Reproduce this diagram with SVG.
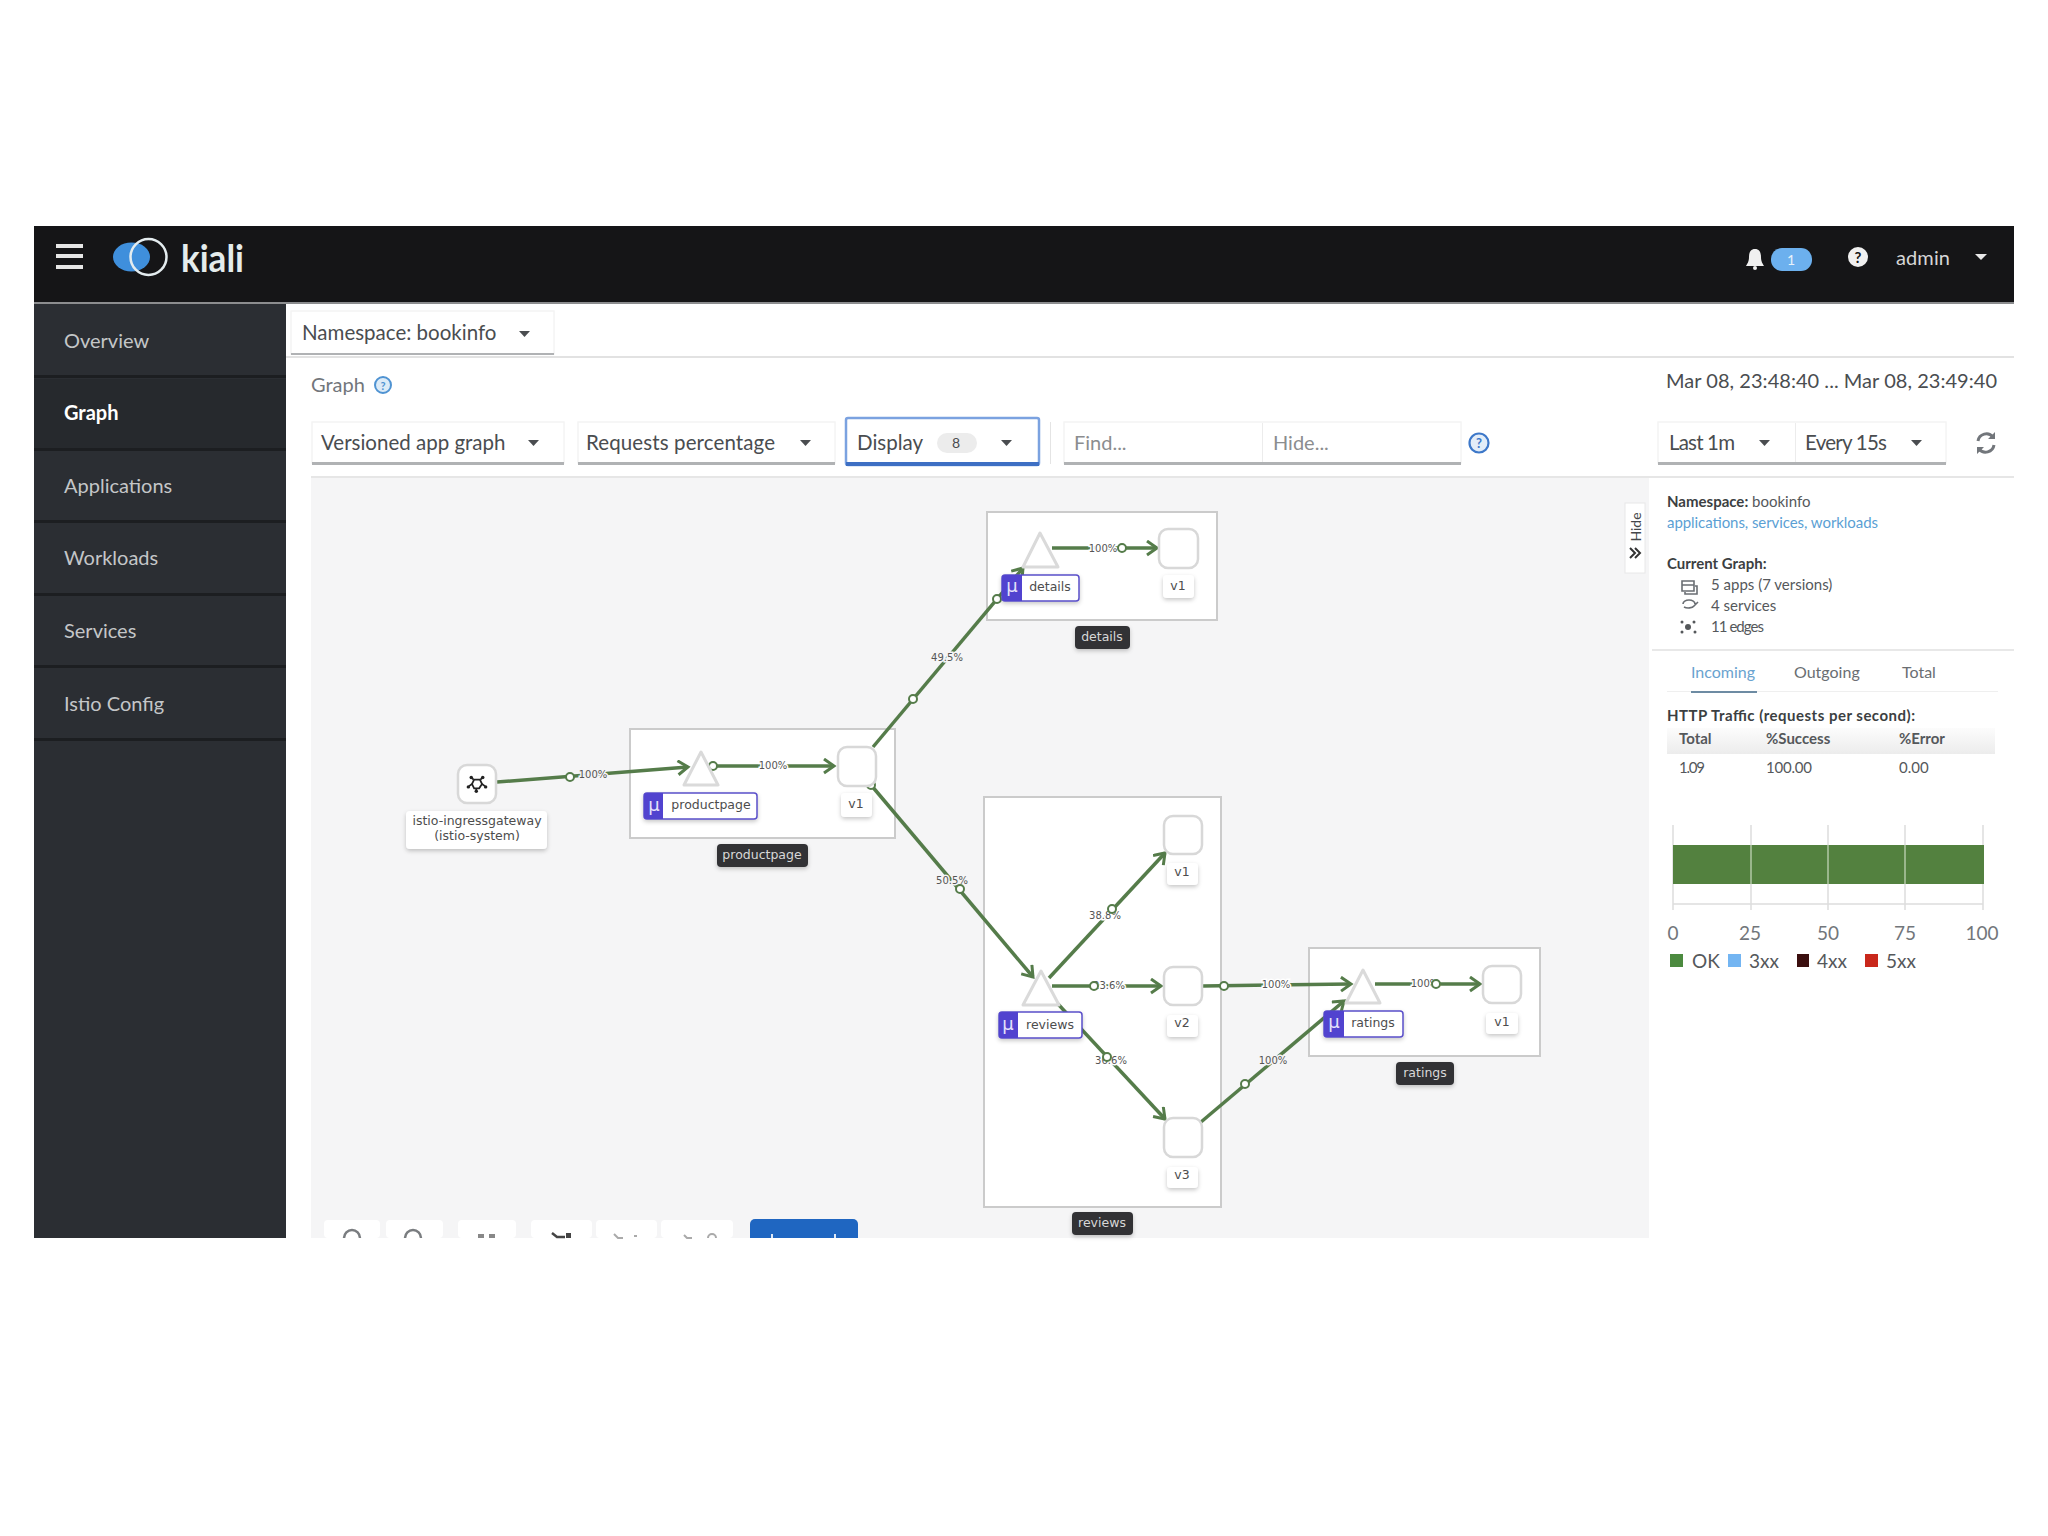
<svg xmlns="http://www.w3.org/2000/svg" width="2048" height="1536" viewBox="0 0 2048 1536">
<style>
text{font-family:"Lato","Liberation Sans",sans-serif;fill:#3c3f42}
.nav{font-size:20px;fill:#c4c6c8;dominant-baseline:central}
.navb{font-weight:700;fill:#fff}
.ui{font-size:20.500px;dominant-baseline:central;fill:#4a4d50}
.ph{font-size:20px;dominant-baseline:central;fill:#8b8d8f}
.sm{font-size:15px;dominant-baseline:central;fill:#55585b}
.b{font-weight:700;fill:#3c3f42}
.th{font-size:15px;font-weight:700;dominant-baseline:central;fill:#55585b}
.tick{font-size:19px;text-anchor:middle;dominant-baseline:central;fill:#72767b}
.lg{font-size:19px;dominant-baseline:central;fill:#55585b}
.g{font-family:"DejaVu Sans",sans-serif;font-size:12.500px;text-anchor:middle;dominant-baseline:central;fill:#4d4d4d}
.dk{font-family:"DejaVu Sans",sans-serif;font-size:12.500px;text-anchor:middle;dominant-baseline:central;fill:#d8d8d8}
.pct{font-family:"DejaVu Sans",sans-serif;font-size:10px;text-anchor:middle;dominant-baseline:central;fill:#555;paint-order:stroke;stroke-width:3px}
.on{stroke:#fff}.off{stroke:#f5f5f6}
.mu{font-family:"DejaVu Sans",sans-serif;font-size:18px;text-anchor:middle;dominant-baseline:central;fill:#e4e0fa}
.box{fill:#fff;stroke:#cbcbcb;stroke-width:2}
.sq{fill:#fff;stroke:#d8d8d8;stroke-width:2.500}
.tri{fill:#fff;stroke:#dadada;stroke-width:3;stroke-linejoin:round}
.lab{fill:#fff;filter:url(#sh)}
.dark{fill:#303234;filter:url(#sh)}
.bdg{fill:#fff;stroke:#5a4fc9;stroke-width:1.500;filter:url(#sh)}
.pur{fill:#5143cf}
.ah{stroke:#557c4a;stroke-width:3.500;fill:none;marker-end:url(#v)}
.d{fill:#fff;stroke:#557c4a;stroke-width:2}
.caret{fill:#4a4d50}
.ul{fill:#b0b2b4}
.fr{fill:#fff;stroke:#f4f4f4;stroke-width:1.500}
.sep{fill:#1c1e21}
.gl{stroke:#dcdcdc;stroke-width:1.500}
.gi{stroke:#8fb07f;stroke-width:1.500}
.ic{fill:none;stroke:#6a6e73;stroke-width:1.600}
.tb{fill:#fff}
</style>
<defs>
<filter id="sh" x="-20%" y="-30%" width="140%" height="170%"><feDropShadow dx="0" dy="2" stdDeviation="2.200" flood-color="#000" flood-opacity=".22"/></filter>
<marker id="v" markerUnits="userSpaceOnUse" markerWidth="18" markerHeight="18" refX="13" refY="8" orient="auto"><path d="M3 1 L13 8 L3 15" fill="none" stroke="#557c4a" stroke-width="3"/></marker>
<linearGradient id="hd" x1="0" y1="0" x2="0" y2="1"><stop offset="0" stop-color="#fcfcfc"/><stop offset="1" stop-color="#ececec"/></linearGradient>
</defs>
<rect width="2048" height="1536" fill="#fff"/>

<g id="sidebar">
<rect x="34" y="303" width="252" height="935" fill="#2b2e33"/>
<rect x="34" y="379" width="252" height="70" fill="#26292d"/>
<rect class="sep" x="34" y="375" width="252" height="3"/><rect class="sep" x="34" y="448" width="252" height="3"/><rect class="sep" x="34" y="520" width="252" height="3"/><rect class="sep" x="34" y="593" width="252" height="3"/><rect class="sep" x="34" y="665" width="252" height="3"/><rect class="sep" x="34" y="738" width="252" height="3"/>
<text class="nav" x="64" y="340">Overview</text>
<text class="nav navb" x="64" y="412">Graph</text>
<text class="nav" x="64" y="485">Applications</text>
<text class="nav" x="64" y="557">Workloads</text>
<text class="nav" x="64" y="630">Services</text>
<text class="nav" x="64" y="703">Istio Config</text>
</g>

<g id="topbar">
<rect x="34" y="226" width="1980" height="77" fill="#151517"/>
<rect x="34" y="302" width="1980" height="2" fill="#8c8d8f"/>
<rect x="56" y="244" width="27" height="4" fill="#e6e6e6"/><rect x="56" y="254" width="27" height="4" fill="#e6e6e6"/><rect x="56" y="265" width="27" height="4" fill="#e6e6e6"/>
<ellipse cx="131.500" cy="257" rx="18.500" ry="14.500" fill="#3f8fdc"/>
<circle cx="148.500" cy="257" r="18" fill="none" stroke="#e4ecef" stroke-width="2.500"/>
<text x="181" y="272" textLength="63" lengthAdjust="spacingAndGlyphs" style="font-size:38px;font-weight:700;fill:#e4ecec">kiali</text>
<path d="M1755 249c-4 0-6 3-6 8 0 5-2 7-3 9h18c-1-2-3-4-3-9 0-5-2-8-6-8z" fill="#f0f0f0"/><circle cx="1755" cy="268" r="2" fill="#f0f0f0"/>
<rect x="1771" y="248" width="41" height="23" rx="11" fill="#6cb0ee"/>
<text x="1791" y="259" style="font-size:14px;text-anchor:middle;dominant-baseline:central;fill:#e8f2fb">1</text>
<circle cx="1858" cy="257" r="10" fill="#f0f0f0"/>
<text x="1858" y="257" style="font-size:15px;font-weight:700;text-anchor:middle;dominant-baseline:central;fill:#151517">?</text>
<text x="1896" y="257" textLength="54" style="font-size:20px;dominant-baseline:central;fill:#d6d6d6">admin</text>
<path d="M1975 254h12l-6 6z" fill="#e8e8e8"/>
</g>

<g id="toolbar">
<rect class="fr" x="291" y="311" width="263" height="43"/>
<rect x="286" y="356" width="1728" height="2" fill="#e2e2e2"/>
<rect class="ul" x="291" y="353" width="263" height="2"/>
<text class="ui" x="302" y="332">Namespace: bookinfo</text>
<path class="caret" d="M519 331h11l-5.500 6z"/>
<text x="311" y="384" style="font-size:20px;dominant-baseline:central;fill:#72767b">Graph</text>
<circle cx="383" cy="385" r="8" fill="#dcebf7" stroke="#4f93d2" stroke-width="2"/>
<text x="383" y="385" style="font-size:11px;font-weight:700;text-anchor:middle;dominant-baseline:central;fill:#4f93d2">?</text>
<text class="ui" x="1666" y="380" textLength="331" style="font-size:20px">Mar 08, 23:48:40 ... Mar 08, 23:49:40</text>

<rect class="fr" x="312" y="422" width="252" height="41"/>
<rect class="ul" x="312" y="462" width="252" height="3"/>
<text class="ui" x="321" y="442">Versioned app graph</text>
<path class="caret" d="M528 440h11l-5.500 6z"/>
<rect class="fr" x="578" y="422" width="257" height="41"/>
<rect class="ul" x="578" y="462" width="257" height="3"/>
<text class="ui" x="586" y="442" textLength="189">Requests percentage</text>
<path class="caret" d="M800 440h11l-5.500 6z"/>
<rect x="846" y="418" width="193" height="47" rx="2" fill="#fff" stroke="#7ba2e0" stroke-width="2.500"/>
<rect x="846" y="462" width="193" height="4" fill="#3d6fc4"/>
<text class="ui" x="857" y="442">Display</text>
<rect x="937" y="433" width="40" height="20" rx="10" fill="#ececec"/>
<text x="956" y="442" style="font-size:14px;text-anchor:middle;dominant-baseline:central;fill:#4a4d50">8</text>
<path class="caret" d="M1001 440h11l-5.500 6z"/>
<rect x="1050" y="422" width="1" height="42" fill="#e4e4e4"/>
<rect class="fr" x="1064" y="422" width="397" height="41"/>
<rect class="ul" x="1064" y="462" width="397" height="3"/>
<rect x="1262" y="423" width="1" height="39" fill="#ececec"/>
<text class="ph" x="1074" y="442">Find...</text>
<text class="ph" x="1273" y="442">Hide...</text>
<circle cx="1479" cy="443" r="9.500" fill="#e3edf8" stroke="#3d78c9" stroke-width="2.200"/>
<text x="1479" y="443" style="font-size:13px;font-weight:700;text-anchor:middle;dominant-baseline:central;fill:#3d78c9">?</text>
<rect class="fr" x="1658" y="422" width="288" height="41"/>
<rect class="ul" x="1658" y="462" width="288" height="3"/>
<text class="ui" x="1669" y="442" textLength="66">Last 1m</text>
<path class="caret" d="M1759 440h11l-5.500 6z"/>
<rect x="1795" y="423" width="1" height="39" fill="#ececec"/>
<text class="ui" x="1805" y="442" textLength="82">Every 15s</text>
<path class="caret" d="M1911 440h11l-5.500 6z"/>
<path d="M1978 441a8.500 8.500 0 0 1 15-4M1994 445a8.500 8.500 0 0 1-15 4" fill="none" stroke="#72767b" stroke-width="3"/>
<path d="M1995 432v7h-7zM1977 454v-7h7z" fill="#72767b"/>
</g>

<g id="canvas">
<rect x="311" y="478" width="1338" height="760" fill="#f5f5f6"/>
<rect x="311" y="476" width="1703" height="2" fill="#e6e6e6"/>
<g id="graph-tools">
<rect class="tb" x="324" y="1220" width="56" height="18" rx="4"/><rect class="tb" x="386" y="1220" width="57" height="18" rx="4"/><rect class="tb" x="458" y="1220" width="58" height="18" rx="4"/><rect class="tb" x="531" y="1220" width="61" height="18" rx="4"/><rect class="tb" x="596" y="1220" width="61" height="18" rx="4"/><rect class="tb" x="661" y="1220" width="72" height="18" rx="4"/>
<path d="M344 1238a8 8 0 0 1 16 0M405 1238a8 8 0 0 1 16 0" fill="none" stroke="#7a7d80" stroke-width="2.500"/>
<path d="M478 1234h6v4h-6zM489 1234h6v4h-6z" fill="#888"/>
<path d="M552 1233l5 4h8" fill="none" stroke="#444" stroke-width="2.500"/><rect x="566" y="1233" width="5" height="5" fill="#444"/>
<path d="M614 1234l4 4h5M634 1236h3M684 1235l3 3h5M708 1238a4 4 0 0 1 8 0" fill="none" stroke="#aaa" stroke-width="2"/>
<path d="M750 1238v-14a5 5 0 0 1 5-5h98a5 5 0 0 1 5 5v14z" fill="#1f66c1"/>
<rect x="771" y="1234" width="2" height="4" fill="#dfe9f6"/><rect x="834" y="1234" width="2" height="4" fill="#dfe9f6"/>
</g>
</g>

<g id="app-productpage"><rect class="box" x="630" y="729" width="265" height="109"/><rect class="dark" x="717" y="844" width="91" height="23" rx="4"/><text class="dk" x="762" y="854">productpage</text></g>
<g id="app-details"><rect class="box" x="987" y="512" width="230" height="108"/><rect class="dark" x="1075" y="626" width="55" height="23" rx="4"/><text class="dk" x="1102" y="636">details</text></g>
<g id="app-reviews"><rect class="box" x="984" y="797" width="237" height="410"/><rect class="dark" x="1072" y="1212" width="61" height="23" rx="4"/><text class="dk" x="1102" y="1222">reviews</text></g>
<g id="app-ratings"><rect class="box" x="1309" y="948" width="231" height="108"/><rect class="dark" x="1396" y="1062" width="58" height="23" rx="4"/><text class="dk" x="1425" y="1072">ratings</text></g>

<g id="connectors">
<line class="ah" x1="497" y1="782" x2="688" y2="767"/>
<line class="ah" x1="717" y1="766" x2="834" y2="766"/>
<line class="ah" x1="873" y1="747" x2="1023" y2="568"/>
<line class="ah" x1="1052" y1="548" x2="1157" y2="548"/>
<line class="ah" x1="871" y1="785" x2="1033" y2="977"/>
<line class="ah" x1="1049" y1="978" x2="1165" y2="853"/>
<line class="ah" x1="1052" y1="986" x2="1161" y2="986"/>
<line class="ah" x1="1058" y1="1004" x2="1165" y2="1119"/>
<line class="ah" x1="1203" y1="986" x2="1351" y2="984"/>
<line class="ah" x1="1201" y1="1122" x2="1344" y2="1001"/>
<line class="ah" x1="1375" y1="984" x2="1480" y2="984"/>
<text class="pct off" x="593" y="774">100%</text>
<text class="pct on" x="773" y="765">100%</text>
<text class="pct off" x="947" y="657">49.5%</text>
<text class="pct on" x="1103" y="548">100%</text>
<text class="pct off" x="952" y="880">50.5%</text>
<text class="pct on" x="1105" y="915">38.8%</text>
<text class="pct on" x="1109" y="985">23.6%</text>
<text class="pct on" x="1111" y="1060">36.6%</text>
<text class="pct on" x="1276" y="984">100%</text>
<text class="pct off" x="1273" y="1060">100%</text>
<text class="pct on" x="1425" y="983">100%</text>
<circle class="d" cx="570" cy="777" r="4"/><circle class="d" cx="713" cy="766" r="4"/><circle class="d" cx="913" cy="699" r="4"/><circle class="d" cx="997" cy="599" r="4"/><circle class="d" cx="1122" cy="548" r="4"/><circle class="d" cx="871" cy="785" r="4"/><circle class="d" cx="960" cy="889" r="4"/><circle class="d" cx="1112" cy="909" r="4"/><circle class="d" cx="1094" cy="986" r="4"/><circle class="d" cx="1107" cy="1057" r="4"/><circle class="d" cx="1224" cy="986" r="4"/><circle class="d" cx="1245" cy="1084" r="4"/><circle class="d" cx="1436" cy="984" r="4"/>
</g>

<g id="node-gateway">
<rect class="sq" x="458" y="765" width="38" height="38" rx="9"/>
<g transform="translate(477 784) scale(.72) translate(-477 -784)">
<g fill="#222" stroke="#222" stroke-width="2.400"><path d="M473 778l8 0 3 6-4 6-7 0-3-6z" fill="none"/><path d="M472 778l-2-3M482 778l2-3M484 784l4 3M476 790l0 3M470 784l-4 3"/></g>
<g fill="#222"><circle cx="469" cy="775" r="2.400"/><circle cx="485" cy="775" r="2.400"/><circle cx="489" cy="788" r="2.400"/><circle cx="476" cy="794" r="2.400"/><circle cx="465" cy="788" r="2.400"/></g>
</g>
<rect class="lab" x="406" y="811" width="141" height="38" rx="4"/>
<text class="g" x="477" y="820">istio-ingressgateway</text><text class="g" x="477" y="835">(istio-system)</text>
</g>
<g id="node-productpage-svc">
<path class="tri" d="M701 752L718 785H684Z"/>
<rect class="bdg" x="644" y="793" width="113" height="26" rx="3"/><path class="pur" d="M647 793h16v26h-16a3 3 0 0 1-3-3v-20a3 3 0 0 1 3-3z"/>
<text class="mu" x="654" y="804">μ</text><text class="g" x="711" y="804">productpage</text>
</g>
<g id="node-productpage-v1"><rect class="sq" x="838" y="747" width="38" height="39" rx="9"/><rect class="lab" x="841" y="793" width="31" height="24" rx="4"/><text class="g" x="856" y="803">v1</text></g>
<g id="node-details-svc">
<path class="tri" d="M1040 533L1058 567H1023Z"/>
<rect class="bdg" x="1002" y="575" width="77" height="26" rx="3"/><path class="pur" d="M1005 575h17v26h-17a3 3 0 0 1-3-3v-20a3 3 0 0 1 3-3z"/>
<text class="mu" x="1012" y="585">μ</text><text class="g" x="1050" y="586">details</text>
</g>
<g id="node-details-v1"><rect class="sq" x="1159" y="529" width="39" height="39" rx="9"/><rect class="lab" x="1163" y="575" width="31" height="23" rx="4"/><text class="g" x="1178" y="585">v1</text></g>
<g id="node-reviews-svc">
<path class="tri" d="M1041 971L1059 1005H1023Z"/>
<rect class="bdg" x="999" y="1012" width="83" height="26" rx="3"/><path class="pur" d="M1002 1012h16v26h-16a3 3 0 0 1-3-3v-20a3 3 0 0 1 3-3z"/>
<text class="mu" x="1008" y="1023">μ</text><text class="g" x="1050" y="1024">reviews</text>
</g>
<g id="node-reviews-v1"><rect class="sq" x="1164" y="816" width="38" height="38" rx="9"/><rect class="lab" x="1167" y="863" width="31" height="22" rx="4"/><text class="g" x="1182" y="871">v1</text></g>
<g id="node-reviews-v2"><rect class="sq" x="1164" y="967" width="38" height="38" rx="9"/><rect class="lab" x="1167" y="1015" width="31" height="22" rx="4"/><text class="g" x="1182" y="1022">v2</text></g>
<g id="node-reviews-v3"><rect class="sq" x="1164" y="1118" width="38" height="39" rx="9"/><rect class="lab" x="1167" y="1167" width="31" height="21" rx="4"/><text class="g" x="1182" y="1174">v3</text></g>
<g id="node-ratings-svc">
<path class="tri" d="M1363 970L1380 1003H1346Z"/>
<rect class="bdg" x="1324" y="1011" width="79" height="26" rx="3"/><path class="pur" d="M1327 1011h17v26h-17a3 3 0 0 1-3-3v-20a3 3 0 0 1 3-3z"/>
<text class="mu" x="1334" y="1021">μ</text><text class="g" x="1373" y="1022">ratings</text>
</g>
<g id="node-ratings-v1"><rect class="sq" x="1483" y="966" width="38" height="37" rx="9"/><rect class="lab" x="1486" y="1013" width="32" height="21" rx="4"/><text class="g" x="1502" y="1021">v1</text></g>

<g id="side-panel">
<rect x="1625" y="503" width="20" height="70" fill="#fff" stroke="#e8e8e8"/>
<text x="1635" y="527" transform="rotate(-90 1635 527)" style="font-size:14px;text-anchor:middle;dominant-baseline:central;fill:#44474a">Hide</text>
<path d="M1630 548l5 5-5 5M1635 548l5 5-5 5" fill="none" stroke="#333" stroke-width="2"/>
<text class="sm" x="1667" y="501"><tspan class="b" style="font-weight:700">Namespace:</tspan> bookinfo</text>
<text class="sm" x="1667" y="522" style="fill:#5b9fd4" textLength="211">applications, services, workloads</text>
<text class="sm b" x="1667" y="563">Current Graph:</text>
<path class="ic" d="M1682 581h12v10h-12zM1682 585h12M1695 586h2v8h-12v-2"/>
<path class="ic" d="M1683 604a6 4 0 0 1 12 0M1684 607a6 3 0 0 0 10-1l4-4"/>
<g fill="#55585b"><circle cx="1688" cy="627" r="3"/><circle cx="1682" cy="622" r="1.500"/><circle cx="1694" cy="622" r="1.500"/><circle cx="1682" cy="632" r="1.500"/><circle cx="1695" cy="632" r="1.500"/></g>
<text class="sm" x="1711" y="584">5 apps (7 versions)</text>
<text class="sm" x="1711" y="605">4 services</text>
<text class="sm" x="1711" y="626" textLength="53">11 edges</text>
<rect x="1652" y="649" width="362" height="2" fill="#e8e8e8"/>
<text class="sm" x="1691" y="671" style="fill:#6aa3cf;font-size:16px">Incoming</text>
<text class="sm" x="1794" y="671" style="font-size:16px;fill:#6a6e72">Outgoing</text>
<text class="sm" x="1902" y="671" style="font-size:16px;fill:#6a6e72">Total</text>
<rect x="1667" y="691" width="331" height="1" fill="#efefef"/>
<rect x="1691" y="691" width="66" height="2" fill="#6d8ba3"/>
<text class="sm b" x="1667" y="715" textLength="248">HTTP Traffic (requests per second):</text>
<rect x="1667" y="728" width="328" height="26" fill="url(#hd)"/>
<text class="th" x="1679" y="738">Total</text><text class="th" x="1766" y="738">%Success</text><text class="th" x="1899" y="738">%Error</text>
<text class="sm" x="1679" y="767" textLength="26">1.09</text><text class="sm" x="1766" y="767" textLength="46">100.00</text><text class="sm" x="1899" y="767">0.00</text>
<rect x="1673" y="845" width="310" height="39" fill="#53813f"/>
<line class="gl" x1="1673" y1="825" x2="1673" y2="910"/><line class="gl" x1="1751" y1="825" x2="1751" y2="910"/><line class="gl" x1="1828" y1="825" x2="1828" y2="910"/><line class="gl" x1="1905" y1="825" x2="1905" y2="910"/><line class="gl" x1="1983" y1="825" x2="1983" y2="910"/>
<line class="gi" x1="1751" y1="845" x2="1751" y2="884"/><line class="gi" x1="1828" y1="845" x2="1828" y2="884"/><line class="gi" x1="1905" y1="845" x2="1905" y2="884"/>
<rect x="1673" y="845" width="2" height="39" fill="#53813f"/><rect x="1982" y="845" width="2" height="39" fill="#53813f"/>
<line class="gl" x1="1673" y1="904" x2="1983" y2="904"/>
<text class="tick" x="1673" y="932">0</text><text class="tick" x="1750" y="932">25</text><text class="tick" x="1828" y="932">50</text><text class="tick" x="1905" y="932">75</text><text class="tick" x="1982" y="932">100</text>
<rect x="1670" y="954" width="13" height="13" fill="#4c8a3f"/><text class="lg" x="1692" y="960">OK</text>
<rect x="1728" y="954" width="13" height="13" fill="#73b5f2"/><text class="lg" x="1749" y="960">3xx</text>
<rect x="1797" y="954" width="12" height="13" fill="#3b0f0f"/><text class="lg" x="1817" y="960">4xx</text>
<rect x="1865" y="954" width="13" height="13" fill="#c9281b"/><text class="lg" x="1886" y="960">5xx</text>
</g>
</svg>
